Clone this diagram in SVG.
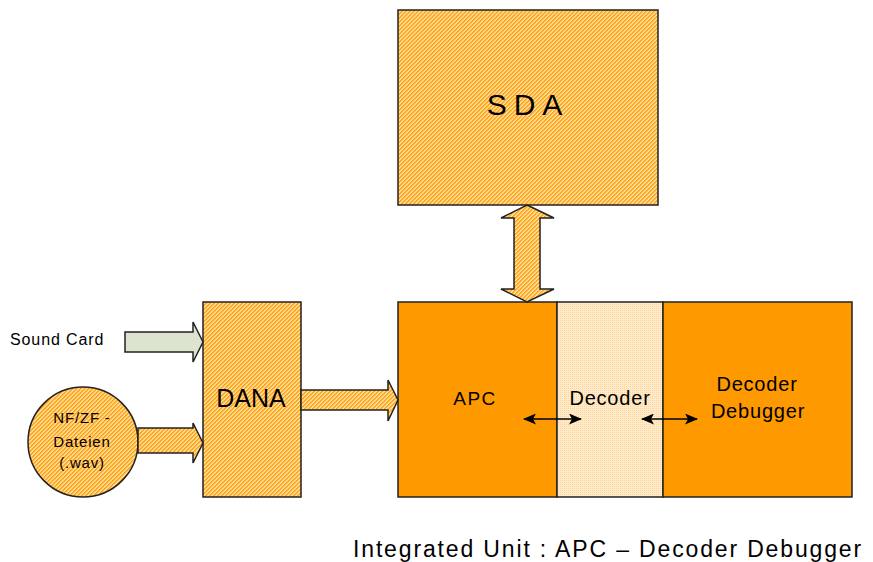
<svg xmlns="http://www.w3.org/2000/svg" width="873" height="562" viewBox="0 0 873 562">
<style>
.t{font-family:"Liberation Sans",Arial,sans-serif;fill:#000}
.hb{fill:url(#hatch);stroke:#222;stroke-width:1.5}
.or{fill:#FF9900;stroke:#222;stroke-width:1.5}
.lt{fill:url(#dots);stroke:#222;stroke-width:1.5}
.ln{stroke:#000;stroke-width:1.5;fill:none}
</style>
<defs>
<pattern id="hatch" patternUnits="userSpaceOnUse" width="2.83" height="10" patternTransform="rotate(45)">
<rect width="2.83" height="10" fill="#FFEFD6"/>
<rect width="1.6" height="10" fill="#FFA000"/>
</pattern>
<pattern id="dots" patternUnits="userSpaceOnUse" width="2" height="2">
<rect width="2" height="2" fill="#FFEACB"/>
<rect width="1" height="1" fill="#FFD79A"/>
</pattern>
<marker id="ah" viewBox="0 0 13 11" refX="12" refY="5.5" markerWidth="13" markerHeight="11" markerUnits="userSpaceOnUse" orient="auto-start-reverse">
<path d="M0,0 L13,5.5 L0,11 L3,5.5 Z" fill="#000"/>
</marker>
</defs>

<g id="sda">
<rect class="hb" x="398" y="10" width="260" height="195"/>
<text class="t" x="528" y="115" font-size="30" text-anchor="middle" letter-spacing="7">SDA</text>
</g>

<g id="apc">
<rect class="or" x="398" y="302" width="159" height="195"/>
<text class="t" x="475" y="405" font-size="19" text-anchor="middle" letter-spacing="1.5">APC</text>
</g>

<g id="decoder">
<rect class="lt" x="557" y="302" width="106" height="195"/>
<text class="t" x="610" y="405" font-size="20" text-anchor="middle" letter-spacing="0.8">Decoder</text>
</g>

<g id="debugger">
<rect class="or" x="663" y="302" width="189" height="195"/>
<text class="t" x="757" y="391" font-size="20" text-anchor="middle" letter-spacing="0.8">Decoder</text>
<text class="t" x="758" y="418" font-size="20" text-anchor="middle" letter-spacing="0.8">Debugger</text>
</g>

<g id="dana">
<rect class="hb" x="203" y="302" width="98" height="195"/>
<text class="t" x="251" y="407" font-size="25" text-anchor="middle">DANA</text>
</g>

<g id="files">
<circle class="hb" cx="83" cy="442" r="55"/>
<text class="t" x="82" y="423" font-size="15" text-anchor="middle" letter-spacing="0.8">NF/ZF -</text>
<text class="t" x="82" y="447" font-size="15" text-anchor="middle" letter-spacing="0.8">Dateien</text>
<text class="t" x="82" y="468" font-size="15" text-anchor="middle" letter-spacing="0.8">(.wav)</text>
</g>

<g id="soundcard">
<text class="t" x="10" y="345" font-size="16" letter-spacing="0.9">Sound Card</text>
</g>

<g id="connectors">
<path class="hb" d="M527,205 L554,218 L540,218 L540,289 L554,289 L527,302 L501,289 L514,289 L514,218 L501,218 Z"/>
<path d="M125,332 L193,332 L193,322 L203,342 L193,362 L193,352 L125,352 Z" fill="#DCE3CF" stroke="#222" stroke-width="1.5"/>
<path class="hb" d="M138,428 L193,428 L193,423 L203,443 L193,463 L193,453 L138,453 Z"/>
<path class="hb" d="M301,390 L388,390 L388,380 L398,400 L388,421 L388,410 L301,410 Z"/>
<line class="ln" x1="524" y1="419" x2="581" y2="419" marker-start="url(#ah)" marker-end="url(#ah)"/>
<line class="ln" x1="642" y1="419" x2="697" y2="419" marker-start="url(#ah)" marker-end="url(#ah)"/>
</g>

<text class="t" x="353" y="557" font-size="23" letter-spacing="1.85">Integrated Unit : APC – Decoder Debugger</text>
</svg>
